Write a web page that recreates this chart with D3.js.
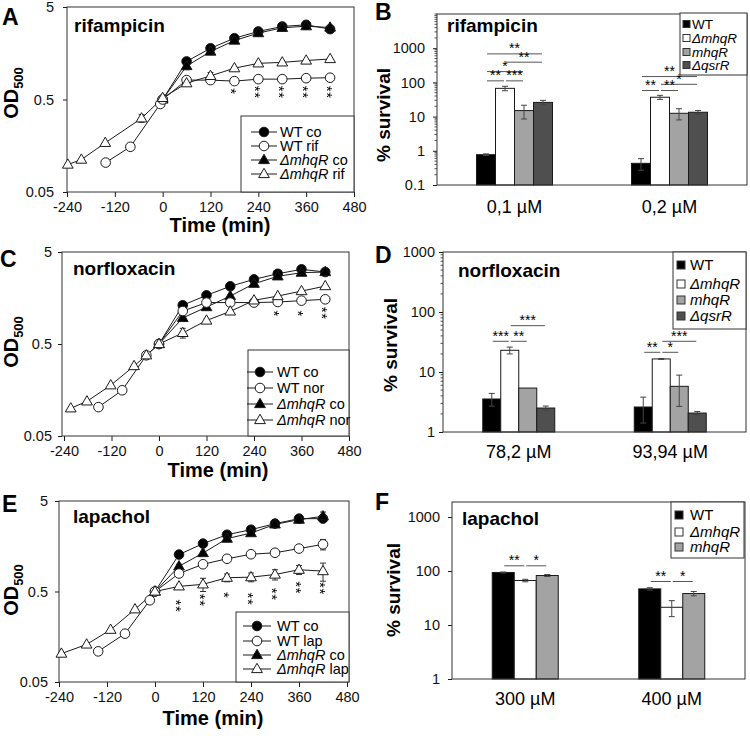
<!DOCTYPE html>
<html>
<head>
<meta charset="utf-8">
<script src="https://cdn.jsdelivr.net/npm/d3@7"></script>
<style>
  body { margin: 0; background: #fff; }
  svg { font-family: "Liberation Sans", Arial, Helvetica, sans-serif; }
</style>
</head>
<body>
<svg id="fig" width="750" height="736">
  <defs>
    <filter id="mono" x="-50%" y="-50%" width="200%" height="200%">
      <feColorMatrix type="saturate" values="0"/>
    </filter>
  </defs>
</svg>
<script>
// ---- shared ticks
const timeTicks = [-240, -120, 0, 120, 240, 360, 480];
const odTicks = [0.05, 0.5, 5];
const tPost = [0, 60, 120, 180, 240, 300, 360, 420];

// ---- A: rifampicin growth
const rifLabels = ["WT co", "WT rif", "ΔmhqR co", "ΔmhqR rif"];
const rifTwtPre = [-143, -81, -6];
const rifTmuPre = [-238, -204, -144, -53];
const rifWTco = [0.5, 1.29, 1.79, 2.3, 2.72, 3.08, 3.21, 2.88];
const rifWTrif = [0.104, 0.154, 0.447, 0.5, 0.81, 0.81, 0.79, 0.83, 0.83, 0.85, 0.86];
const rifMUco = [0.5, 1.15, 1.65, 2.17, 2.61, 2.98, 3.1, 3.0];
const rifMUcoSD = [0, 0.1, 0.05, 0.05, 0.05, 0.05, 0.05, 0.05];
const rifMUrif = [0.099, 0.112, 0.17, 0.313, 0.52, 0.75, 0.90, 1.09, 1.23, 1.26, 1.32, 1.37];
const rifMUrifSD = [0, 0, 0, 0.03, 0, 0.02, 0.08, 0.03, 0.03, 0.03, 0.03, 0.03];
const rifStars = ["", "", "", "*", "**", "**", "**", "**"];
const rifStarY = [0, 0, 0, 0.61, 0.6, 0.6, 0.6, 0.6];

// ---- C: norfloxacin growth
const norLabels = ["WT co", "WT nor", "ΔmhqR co", "ΔmhqR nor"];
const norTwtPre = [-153, -93, -32];
const norTmuPre = [-223, -182, -122, -63, -32];
const norWTco = [0.5, 1.32, 1.69, 2.12, 2.52, 2.9, 3.24, 3.03];
const norWTnor = [0.103, 0.157, 0.377, 0.5, 1.14, 1.41, 1.41, 1.41, 1.43, 1.48, 1.53];
const norMUco = [0.5, 0.96, 1.26, 1.66, 2.26, 2.72, 2.98, 3.03];
const norMUcoSD = [0, 0.08, 0.05, 0.05, 0.05, 0.05, 0.05, 0.05];
const norMUnor = [0.10, 0.119, 0.178, 0.288, 0.377, 0.5, 0.66, 0.90, 1.13, 1.49, 1.66, 1.88, 2.13];
const norMUnorSD = [0, 0, 0, 0, 0.02, 0, 0.08, 0.03, 0.03, 0.03, 0.03, 0.03, 0.03];
const norStars = ["", "", "", "", "", "*", "*", "**"];
const norStarY = [0, 0, 0, 0, 0, 1.07, 1.07, 1.08];

// ---- E: lapachol growth
const lapLabels = ["WT co", "WT lap", "ΔmhqR co", "ΔmhqR lap"];
const lapTwtPre = [-142, -75, -13];
const lapTmuPre = [-234, -171, -111, -50];
const lapWTco = [0.5, 1.28, 1.69, 2.12, 2.41, 2.81, 3.19, 3.19];
const lapWTlap = [0.109, 0.171, 0.40, 0.5, 0.79, 1.0, 1.15, 1.29, 1.34, 1.49, 1.66];
const lapWTlapSD = [0, 0, 0, 0, 0.03, 0.04, 0.1, 0.05, 0.05, 0.06, 0.22];
const lapMUco = [0.5, 0.95, 1.33, 1.92, 2.21, 2.76, 3.11, 3.39];
const lapMUcoSD = [0, 0.05, 0.05, 0.05, 0.05, 0.08, 0.1, 0.39];
const lapMUlap = [0.103, 0.130, 0.189, 0.318, 0.5, 0.57, 0.60, 0.71, 0.72, 0.77, 0.87, 0.84];
const lapMUlapSD = [0, 0, 0, 0, 0, 0.03, 0.1, 0.07, 0.08, 0.1, 0.1, 0.19];
const lapStars = ["", "**", "**", "*", "**", "**", "**", "**"];
const lapStarY = [0, 0.346, 0.40, 0.454, 0.413, 0.466, 0.55, 0.54];

// ---- survival bars
const strains4 = ["WT", "ΔmhqR", "mhqR", "ΔqsrR"];
const strains3 = ["WT", "ΔmhqR", "mhqR"];
const barColors = ["#000000", "#ffffff", "#a3a3a3", "#4f4f4f"];

const rifConc = ["0,1 µM", "0,2 µM"];
const rifSurv = [[0.77, 67, 15, 26], [0.43, 36.8, 12.5, 13.4]];
const rifSurvSD = [[0.04, 10, 6.5, 3.8], [0.16, 5, 4.5, 1.7]];
const rifSig = [[0, 0, 3, 682, "**"], [0, 1, 3, 390, "**"], [0, 0, 2, 207, "*"], [0, 0, 1, 111, "**"], [0, 1, 2, 111, "***"],
                [1, 0, 3, 148, "**"], [1, 1, 3, 88, "*"], [1, 0, 1, 58, "**"], [1, 1, 2, 58, "**"]];
const survTicksB = [0.1, 1, 10, 100, 1000];

const norConc = ["78,2 µM", "93,94 µM"];
const norSurv = [[3.55, 23, 5.4, 2.51], [2.61, 16.5, 5.77, 2.07]];
const norSurvSD = [[0.85, 3, 0, 0.2], [1.2, 0.3, 3.1, 0.13]];
const norSig = [[0, 0, 1, 32.5, "***"], [0, 1, 2, 32.5, "**"], [0, 1, 3, 59.2, "***"],
                [1, 0, 1, 21.3, "**"], [1, 1, 2, 21.3, "*"], [1, 1, 3, 32.5, "***"]];

const lapConc = ["300 µM", "400 µM"];
const lapSurv = [[94, 66.7, 82.6], [46.7, 21.3, 38.3]];
const lapSurvSD = [[2, 3.5, 3.5], [2.4, 7, 3.5]];
const lapSig = [[0, 0, 1, 125, "**"], [0, 1, 2, 125, "*"], [1, 0, 1, 64, "**"], [1, 1, 2, 64, "*"]];
const survTicks = [1, 10, 100, 1000];

const svg = d3.select("#fig");
const ink = "#1a1a1a";

function addLabel(sel, label) {
    label.split(" ").forEach((w, i) => {
        if (i) sel.append("tspan").text(" ");
        sel.append("tspan").text(w).style("font-style", /mhqR|qsrR/.test(w) ? "italic" : "normal");
    });
}

function marker(g, shape, fill, cx, cy) {
    if (shape === "circle") {
        g.append("circle").attr("cx", cx).attr("cy", cy).attr("r", 4.8)
            .attr("fill", fill).attr("stroke", ink).attr("stroke-width", 1);
    } else {
        g.append("path").attr("transform", `translate(${cx},${cy + 0.5})`)
            .attr("d", d3.symbol(d3.symbolTriangle, 50)())
            .attr("fill", fill).attr("stroke", ink).attr("stroke-width", 1);
    }
}

function styleAxis(a, size) {
    a.select(".domain").remove();
    a.selectAll(".tick line").attr("stroke", ink);
    a.selectAll(".tick text").attr("fill", "#111").style("font-size", size + "px");
}

function panelLetter(letter, x, y) {
    svg.append("text").attr("x", x).attr("y", y).text(letter)
        .style("font-size", "23px").style("font-weight", "bold");
}

function drawGrowth(p) {
    const g = svg.append("g");
    const x = d3.scaleLinear().domain([-240, 480]).range([p.x0, p.x1]);
    const y = d3.scaleLog().domain([0.05, 5]).range([p.bottom, p.top]);

    g.append("g").attr("transform", `translate(0,${p.bottom})`)
        .call(d3.axisBottom(x).tickValues(timeTicks).tickSize(5).tickPadding(5).tickFormat(d => String(d)))
        .call(a => styleAxis(a, 14.5));
    g.append("g").attr("transform", `translate(${p.left},0)`)
        .call(d3.axisLeft(y).tickValues(odTicks).tickSize(4).tickPadding(p.yPad).tickFormat(d => String(d)))
        .call(a => styleAxis(a, 14.5));

    g.append("rect").attr("x", p.left).attr("y", p.top)
        .attr("width", p.right - p.left).attr("height", p.bottom - p.top)
        .attr("fill", "none").attr("stroke", "#333");

    const series = p.series.map(s => ({
        ...s,
        pts: s.t.map((t, i) => ({t, v: s.v[i], sd: s.sd ? s.sd[i] : 0}))
    }));
    const line = d3.line().x(d => x(d.t)).y(d => y(d.v));

    series.forEach(s => {
        g.append("path").attr("d", line(s.pts))
            .attr("fill", "none").attr("stroke", ink).attr("stroke-width", 1);
    });
    series.forEach(s => s.pts.filter(d => d.sd > 0).forEach(d => {
        const cx = x(d.t), ya = y(d.v + d.sd), yb = y(d.v - d.sd);
        g.append("path")
            .attr("d", `M${cx},${ya}V${yb}M${cx - 3},${ya}H${cx + 3}M${cx - 3},${yb}H${cx + 3}`)
            .attr("fill", "none").attr("stroke", "#333");
    }));
    series.forEach(s => s.pts.forEach(d => marker(g, s.shape, s.fill, x(d.t), y(d.v))));

    // significance stars under the curves: one text per time point, turned so
    // that "**" reads as two stacked stars; filtered to grey to drop colour fringes
    const sg = g.append("g").attr("filter", "url(#mono)");
    p.stars.forEach((st, i) => {
        if (!st) return;
        sg.append("text")
            .attr("transform", `translate(${x(tPost[i])},${y(p.starY[i])}) rotate(90)`)
            .attr("y", 8.5).attr("text-anchor", "middle").attr("fill", "#000")
            .style("font-size", "15px").style("letter-spacing", "0.6px").text(st);
    });

    // legend
    const L = p.legend;
    g.append("rect").attr("x", L.x).attr("y", L.y).attr("width", L.w).attr("height", L.h)
        .attr("fill", "#fff").attr("stroke", "#333");
    series.forEach(s => {
        const yy = L.rows[s.row];
        g.append("line").attr("x1", L.lx0).attr("x2", L.lx1).attr("y1", yy).attr("y2", yy)
            .attr("stroke", ink);
        marker(g, s.shape, s.fill, L.mx, yy);
        const t = g.append("text").attr("x", L.tx).attr("y", yy).attr("dy", "0.35em")
            .style("font-size", "14.5px");
        addLabel(t, s.label);
    });

    // titles
    g.append("text").attr("x", p.title[0]).attr("y", p.title[1]).text(p.name)
        .style("font-size", "19px").style("font-weight", "bold");
    const yl = g.append("text").attr("transform", `translate(${p.ylab[0]},${p.ylab[1]}) rotate(-90)`)
        .attr("text-anchor", "middle").style("font-size", "20px").style("font-weight", "bold");
    yl.append("tspan").text("OD");
    yl.append("tspan").text("500").attr("dy", 5).style("font-size", "13px");
    g.append("text").attr("x", p.xlab[0]).attr("y", p.xlab[1]).attr("text-anchor", "middle")
        .style("font-size", "20px").style("font-weight", "bold").text("Time (min)");
}

function drawSurvival(p) {
    const g = svg.append("g");
    const x0 = d3.scaleBand().domain(p.groups).range([p.left, p.right]);
    const pad = (x0.bandwidth() / p.barW - p.strains.length) / 2;
    const x1 = d3.scaleBand().domain(p.strains).range([0, x0.bandwidth()]).paddingInner(0).paddingOuter(pad);
    const y = d3.scaleLog().domain(p.domain).range([p.bottom, p.top]);
    const bw = x1.bandwidth();

    const yAxis = g.append("g").attr("transform", `translate(${p.left},0)`)
        .call(d3.axisLeft(y).tickValues(p.ticks).tickSize(4).tickPadding(p.yPad).tickFormat(d => String(d)))
        .call(a => styleAxis(a, 14.5));
    if (p.minor) {
        const major = new Set(p.ticks.map(String));
        y.ticks().filter(v => !major.has(String(v))).forEach(v => {
            yAxis.append("line").attr("x1", -2.5).attr("x2", 0).attr("y1", y(v)).attr("y2", y(v))
                .attr("stroke", "#555");
        });
    }

    const bars = [];
    p.groups.forEach((grp, gi) => p.strains.forEach((s, si) => {
        bars.push({grp, s, si, v: p.values[gi][si], sd: p.sd[gi][si]});
    }));
    g.selectAll("rect.bar").data(bars).join("rect").attr("class", "bar")
        .attr("x", d => x0(d.grp) + x1(d.s))
        .attr("y", d => y(d.v))
        .attr("width", bw)
        .attr("height", d => p.bottom - y(d.v))
        .attr("fill", d => barColors[d.si])
        .attr("stroke", ink).attr("stroke-width", 1);
    bars.filter(d => d.sd > 0).forEach(d => {
        const cx = x0(d.grp) + x1(d.s) + bw / 2, ya = y(d.v + d.sd), yb = y(d.v - d.sd);
        g.append("path")
            .attr("d", `M${cx},${ya}V${yb}M${cx - 3},${ya}H${cx + 3}M${cx - 3},${yb}H${cx + 3}`)
            .attr("fill", "none").attr("stroke", "#444");
    });

    g.append("rect").attr("x", p.left).attr("y", p.top)
        .attr("width", p.right - p.left).attr("height", p.bottom - p.top)
        .attr("fill", "none").attr("stroke", "#333");

    // significance brackets
    p.sig.forEach(([gi, a, b, v, lab]) => {
        const grp = p.groups[gi];
        const xa = x0(grp) + x1(p.strains[a]) + bw / 2 + 1;
        const xb = x0(grp) + x1(p.strains[b]) + bw / 2 - 1;
        const yy = y(v);
        g.append("line").attr("x1", xa).attr("x2", xb).attr("y1", yy).attr("y2", yy)
            .attr("stroke", "#555");
        g.append("text").attr("x", (xa + xb) / 2).attr("y", yy - 0.5).attr("text-anchor", "middle")
            .style("font-size", "14px").text(lab);
    });

    // category labels
    g.selectAll("text.cat").data(p.groups).join("text").attr("class", "cat")
        .attr("x", d => x0(d) + x0.bandwidth() / 2).attr("y", p.catY)
        .attr("text-anchor", "middle").style("font-size", "18px").text(d => d);

    // legend
    const L = p.legend;
    g.append("rect").attr("x", L.x).attr("y", L.y).attr("width", L.w).attr("height", L.h)
        .attr("fill", "#fff").attr("stroke", "#333");
    p.strains.forEach((s, i) => {
        const yy = L.rows[i];
        g.append("rect").attr("x", L.sx).attr("y", yy - L.sq / 2).attr("width", L.sq).attr("height", L.sq)
            .attr("fill", barColors[i]).attr("stroke", "#333");
        const t = g.append("text").attr("x", L.tx).attr("y", yy).attr("dy", "0.35em")
            .style("font-size", L.fs + "px");
        addLabel(t, s);
    });

    g.append("text").attr("x", p.title[0]).attr("y", p.title[1]).text(p.name)
        .style("font-size", "19px").style("font-weight", "bold");
    g.append("text").attr("transform", `translate(${p.ylab[0]},${p.ylab[1]}) rotate(-90)`)
        .attr("text-anchor", "middle").style("font-size", "19px").style("font-weight", "bold")
        .text("% survival");
}

// draw order: controls first, treated (open) on top; row = legend position
function growthSeries(labels, tw, tm, wco, wtr, mco, mtr, sds) {
    return [
        {label: labels[0], row: 0, t: tPost, v: wco, shape: "circle", fill: "#000"},
        {label: labels[2], row: 2, t: tPost, v: mco, sd: sds[0], shape: "triangle", fill: "#000"},
        {label: labels[1], row: 1, t: tw.concat(tPost), v: wtr, sd: sds[1], shape: "circle", fill: "#fff"},
        {label: labels[3], row: 3, t: tm.concat(tPost), v: mtr, sd: sds[2], shape: "triangle", fill: "#fff"}
    ];
}

// ---- A
drawGrowth({
    name: "rifampicin",
    series: growthSeries(rifLabels, rifTwtPre, rifTmuPre, rifWTco, rifWTrif, rifMUco, rifMUrif,
        [rifMUcoSD, null, rifMUrifSD]),
    stars: rifStars, starY: rifStarY,
    left: 67, right: 354, x0: 67, x1: 354, top: 7, bottom: 192, yPad: 9,
    legend: {x: 241, y: 116, w: 113, h: 76, rows: [132, 146, 160, 174], lx0: 251, lx1: 277, mx: 264, tx: 280},
    title: [74, 32], ylab: [18, 93], xlab: [220, 232]
});
// ---- C
drawGrowth({
    name: "norfloxacin",
    series: growthSeries(norLabels, norTwtPre, norTmuPre, norWTco, norWTnor, norMUco, norMUnor,
        [norMUcoSD, null, norMUnorSD]),
    stars: norStars, starY: norStarY,
    left: 62, right: 349, x0: 64, x1: 349, top: 252, bottom: 436, yPad: 6,
    legend: {x: 248, y: 350, w: 101, h: 86, rows: [372, 388, 404, 420], lx0: 247, lx1: 273, mx: 260, tx: 277},
    title: [73, 275], ylab: [18, 342], xlab: [218, 477]
});
// ---- E
drawGrowth({
    name: "lapachol",
    series: growthSeries(lapLabels, lapTwtPre, lapTmuPre, lapWTco, lapWTlap, lapMUco, lapMUlap,
        [lapMUcoSD, lapWTlapSD, lapMUlapSD]),
    stars: lapStars, starY: lapStarY,
    left: 59, right: 349, x0: 59, x1: 347, top: 501, bottom: 682, yPad: 7,
    legend: {x: 236, y: 612, w: 113, h: 70, rows: [626, 641, 655, 669], lx0: 243, lx1: 271, mx: 257, tx: 277},
    title: [73, 523], ylab: [18, 590], xlab: [213, 725]
});

// ---- B, D, F
drawSurvival({
    name: "rifampicin", groups: rifConc, strains: strains4, values: rifSurv, sd: rifSurvSD, sig: rifSig,
    domain: [0.1, 10000], ticks: survTicksB, minor: true,
    left: 437, right: 747, top: 14, bottom: 185, barW: 19, yPad: 8, catY: 213,
    legend: {x: 680, y: 13, w: 67, h: 62, rows: [24, 38, 52, 65], sx: 683, sq: 7, tx: 692, fs: 13.5},
    title: [447, 32], ylab: [390, 115]
});
drawSurvival({
    name: "norfloxacin", groups: norConc, strains: strains4, values: norSurv, sd: norSurvSD, sig: norSig,
    domain: [1, 1000], ticks: survTicks, minor: true,
    left: 443, right: 746, top: 252, bottom: 432, barW: 18, yPad: 4, catY: 458,
    legend: {x: 673, y: 252, w: 73, h: 77, rows: [265, 284, 300, 316], sx: 677, sq: 8, tx: 690, fs: 15},
    title: [458, 277], ylab: [397, 345]
});
drawSurvival({
    name: "lapachol", groups: lapConc, strains: strains3, values: lapSurv, sd: lapSurvSD, sig: lapSig,
    domain: [1, 1900], ticks: survTicks, minor: false,
    left: 452, right: 745, top: 502, bottom: 679, barW: 22, yPad: 8, catY: 705,
    legend: {x: 671, y: 502, w: 73, h: 56, rows: [515, 532, 547], sx: 675, sq: 8, tx: 690, fs: 15},
    title: [462, 525], ylab: [400, 590]
});

panelLetter("A", 2, 25);
panelLetter("B", 375, 20);
panelLetter("C", 0, 267);
panelLetter("D", 375, 263);
panelLetter("E", 2, 512);
panelLetter("F", 375, 510);
</script>
</body>
</html>
